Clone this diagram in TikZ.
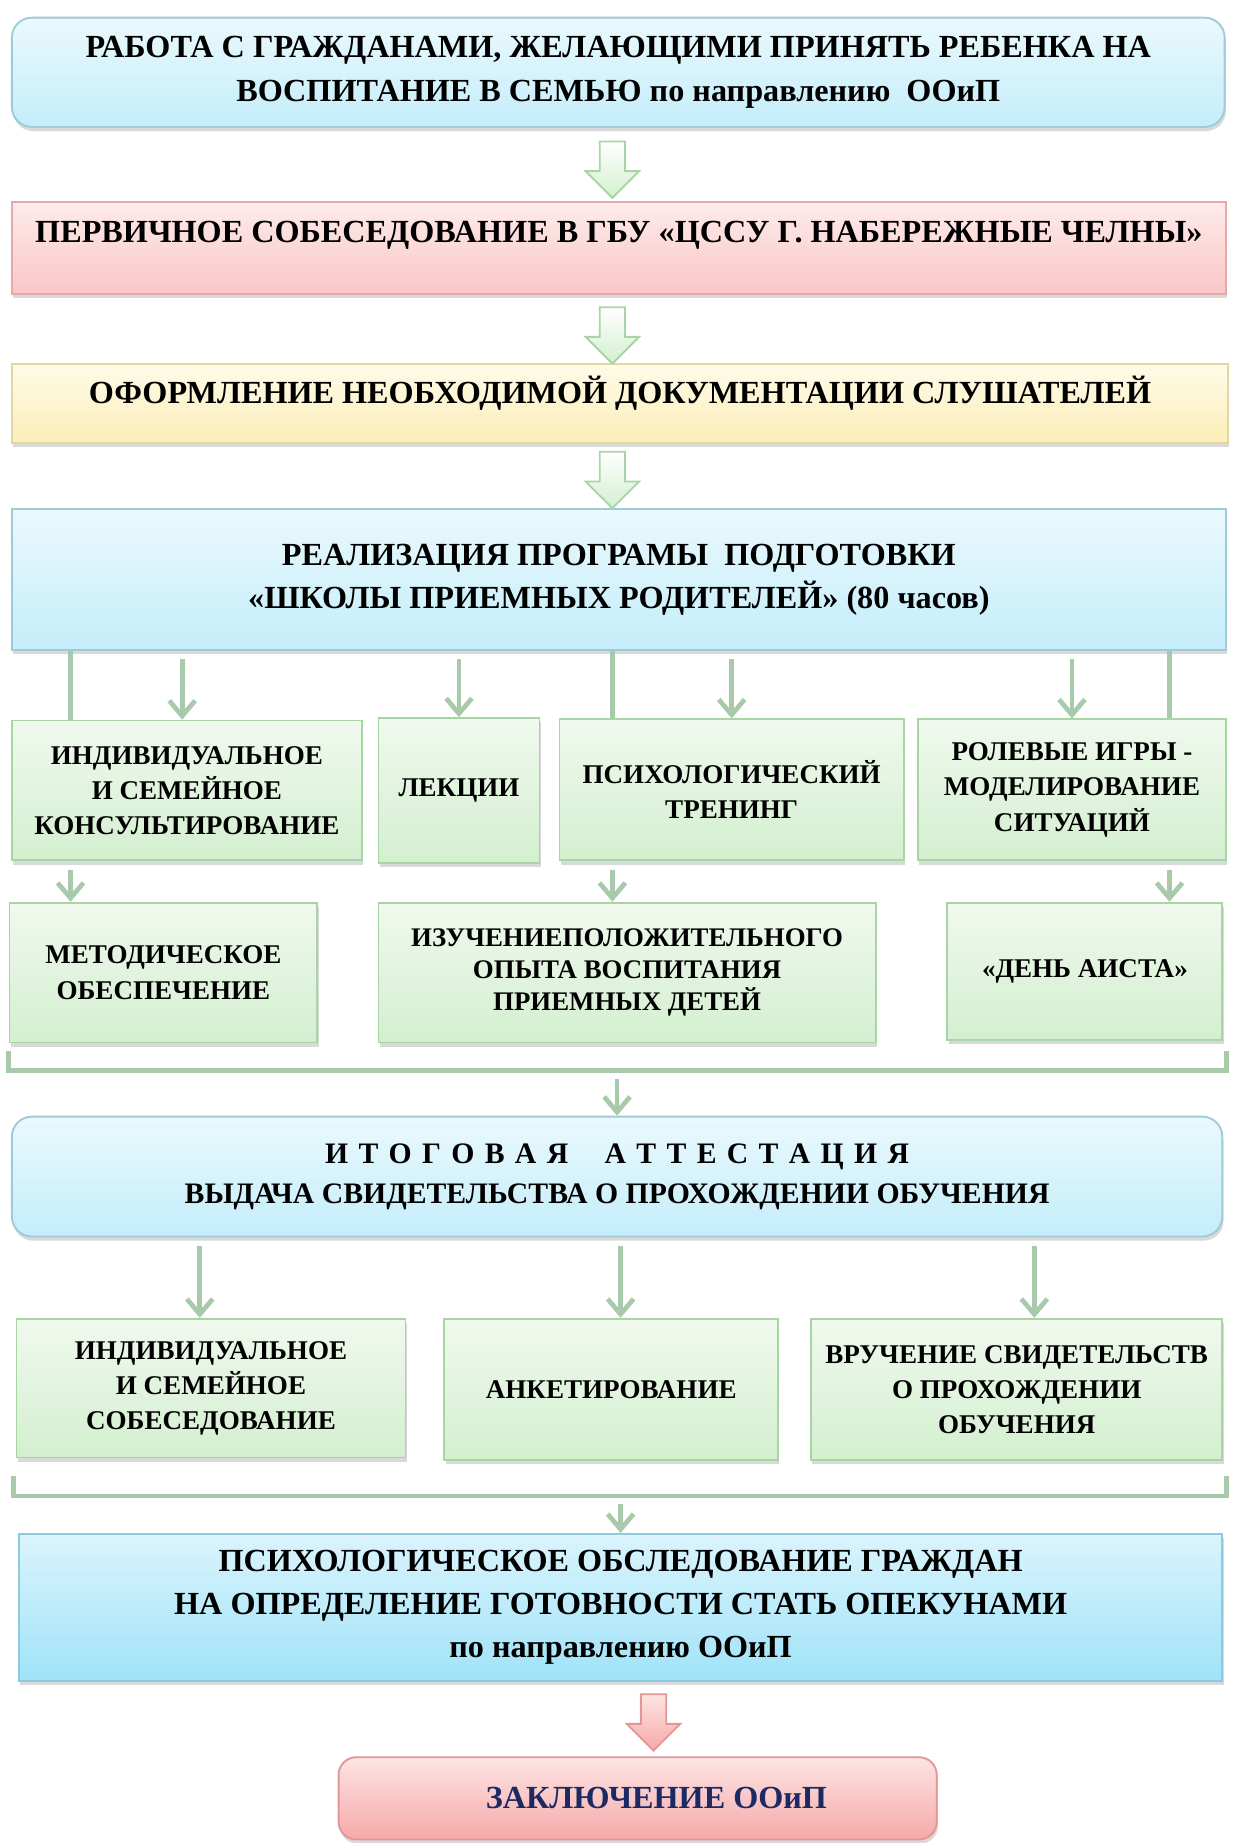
\documentclass[tikz,border=0pt]{standalone}
\usepackage{fontspec}
\setmainfont{Liberation Serif}
\usetikzlibrary{shapes, shapes.arrows, arrows.meta, positioning, calc, shadows}

\definecolor{bluetop}{HTML}{EAF9FD}
\definecolor{bluebot}{HTML}{C4EDFA}
\definecolor{blueline}{HTML}{9FCAD8}
\definecolor{pinktop}{HTML}{FEEBEB}
\definecolor{pinkbot}{HTML}{F9C6C6}
\definecolor{pinkline}{HTML}{E6A9A9}
\definecolor{yeltop}{HTML}{FFFBE8}
\definecolor{yelbot}{HTML}{FBEDB8}
\definecolor{yelline}{HTML}{E2D6A2}
\definecolor{greentop}{HTML}{F0F9EE}
\definecolor{greenbot}{HTML}{D3EFCF}
\definecolor{greenline}{HTML}{A9D5A5}
\definecolor{cyantop}{HTML}{DAF4FD}
\definecolor{cyanbot}{HTML}{A0E3F8}
\definecolor{cyanline}{HTML}{8ECADD}
\definecolor{redtop}{HTML}{FDE4E4}
\definecolor{redbot}{HTML}{F6A9A8}
\definecolor{redline}{HTML}{E09796}
\definecolor{linkcol}{HTML}{A8CAAB}
\definecolor{navy}{HTML}{1C2A64}

\begin{document}
\begin{tikzpicture}[
    x=0.02cm, y=-0.02cm,
    box/.style={rectangle, draw, line width=0.9pt, align=center, inner sep=2pt,
        drop shadow={shadow xshift=0.6pt, shadow yshift=-2pt, opacity=0.3}},
    bigtext/.style={font=\fontsize{15.6}{21}\selectfont\bfseries},
    midtext/.style={font=\fontsize{14.4}{19.4}\selectfont\bfseries},
    smalltext/.style={font=\fontsize{13.1}{17}\selectfont\bfseries},
    bluebox/.style={box, bigtext, draw=blueline, top color=bluetop, bottom color=bluebot},
    pinkbox/.style={box, bigtext, draw=pinkline, top color=pinktop, bottom color=pinkbot},
    yellowbox/.style={box, bigtext, draw=yelline, top color=yeltop, bottom color=yelbot},
    greenbox/.style={box, smalltext, draw=greenline, top color=greentop, bottom color=greenbot},
    cyanbox/.style={box, bigtext, draw=cyanline, top color=cyantop, bottom color=cyanbot},
    redbox/.style={box, draw=redline, top color=redtop, bottom color=redbot, text=navy,
        font=\fontsize{15.6}{19}\selectfont\bfseries},
    garrow/.style={single arrow, shape border rotate=270, draw=greenline, line width=0.9pt,
        top color=white, bottom color=greenbot, minimum height=0.96cm,
        single arrow head extend=0.24cm, inner sep=0.2cm},
    rarrow/.style={garrow, draw=redline, top color=redtop, bottom color=redbot},
    stem/.style={draw=linkcol, line width=2.3pt},
    link/.style={stem, shorten <=0.14cm, -{Straight Barb[length=2.6mm, width=4.4mm]}}
]
\useasboundingbox (0,0) rectangle (1049,1568);

% Main steps
\node[bluebox, rounded corners=0.34cm, minimum width=20.64cm, minimum height=1.86cm] (work) at (526,61.5)
    {РАБОТА С ГРАЖДАНАМИ, ЖЕЛАЮЩИМИ ПРИНЯТЬ РЕБЕНКА НА\\ВОСПИТАНИЕ В СЕМЬЮ по направлению\ \ ООиП};
\node[pinkbox, minimum width=20.66cm, minimum height=1.56cm, text height=0.5cm, text depth=0.69cm] (interview) at (526.5,211)
    {ПЕРВИЧНОЕ СОБЕСЕДОВАНИЕ В ГБУ «ЦССУ Г. НАБЕРЕЖНЫЕ ЧЕЛНЫ»};
\node[yellowbox, minimum width=20.7cm, minimum height=1.34cm, text height=0.5cm, text depth=0.51cm] (docs) at (527.5,343.5)
    {ОФОРМЛЕНИЕ НЕОБХОДИМОЙ ДОКУМЕНТАЦИИ СЛУШАТЕЛЕЙ};
\node[bluebox, minimum width=20.66cm, minimum height=2.4cm] (school) at (526.5,493)
    {РЕАЛИЗАЦИЯ ПРОГРАМЫ\ \ ПОДГОТОВКИ\\«ШКОЛЫ ПРИЕМНЫХ РОДИТЕЛЕЙ» (80 часов)};

\node[garrow] (ga1) at (521,139) {};
\node[garrow] (ga2) at (521,280) {};
\node[garrow] (ga3) at (521,403) {};

% Program parts
\node[greenbox, minimum width=5.96cm, minimum height=2.38cm] (consult) at (159,672.5)
    {ИНДИВИДУАЛЬНОЕ\\И СЕМЕЙНОЕ\\КОНСУЛЬТИРОВАНИЕ};
\node[greenbox, minimum width=2.74cm, minimum height=2.46cm] (lect) at (390.5,672.5) {ЛЕКЦИИ};
\node[greenbox, minimum width=5.86cm, minimum height=2.4cm] (train) at (622.5,672)
    {ПСИХОЛОГИЧЕСКИЙ\\ТРЕНИНГ};
\node[greenbox, minimum width=5.24cm, minimum height=2.4cm] (games) at (912,672)
    {РОЛЕВЫЕ ИГРЫ -\\МОДЕЛИРОВАНИЕ\\СИТУАЦИЙ};

\node[greenbox, minimum width=5.24cm, minimum height=2.38cm] (method) at (139,827.5)
    {МЕТОДИЧЕСКОЕ\\ОБЕСПЕЧЕНИЕ};
\node[greenbox, font=\fontsize{13}{15.4}\selectfont\bfseries, minimum width=8.46cm, minimum height=2.38cm] (study) at (533.5,827.5)
    {ИЗУЧЕНИЕПОЛОЖИТЕЛЬНОГО\\ОПЫТА ВОСПИТАНИЯ\\ПРИЕМНЫХ ДЕТЕЙ};
\node[greenbox, minimum width=4.68cm, minimum height=2.34cm] (stork) at (923,826.5) {«ДЕНЬ АИСТА»};

% Attestation
\node[bluebox, midtext, rounded corners=0.34cm, minimum width=20.6cm, minimum height=2.04cm] (final) at (525,1001)
    {{\spaceskip=5pt И Т О Г О В А Я\hspace{0.62cm}А Т Т Е С Т А Ц И Я}\\ВЫДАЧА СВИДЕТЕЛЬСТВА О ПРОХОЖДЕНИИ ОБУЧЕНИЯ};

\node[greenbox, minimum width=6.62cm, minimum height=2.36cm] (talk) at (179.5,1181)
    {ИНДИВИДУАЛЬНОЕ\\И СЕМЕЙНОЕ\\СОБЕСЕДОВАНИЕ};
\node[greenbox, minimum width=5.68cm, minimum height=2.4cm] (survey) at (520,1182) {АНКЕТИРОВАНИЕ};
\node[greenbox, minimum width=7cm, minimum height=2.4cm] (award) at (865,1182)
    {ВРУЧЕНИЕ СВИДЕТЕЛЬСТВ\\О ПРОХОЖДЕНИИ\\ОБУЧЕНИЯ};

% Last steps
\node[cyanbox, font=\fontsize{15.6}{20.8}\selectfont\bfseries, minimum width=20.48cm, minimum height=2.5cm] (exam) at (528,1367.5)
    {ПСИХОЛОГИЧЕСКОЕ ОБСЛЕДОВАНИЕ ГРАЖДАН\\НА ОПРЕДЕЛЕНИЕ ГОТОВНОСТИ СТАТЬ ОПЕКУНАМИ\\по направлению ООиП};
\node[rarrow] (ra) at (556,1460) {};
\node[redbox, rounded corners=0.3cm, minimum width=10.18cm, minimum height=1.4cm] (verdict) at (542.5,1530)
    {\hspace*{0.64cm}ЗАКЛЮЧЕНИЕ ООиП};

% Arrows
\draw[stem] (school.south -| 60,0) -- (consult.north -| 60,0);
\draw[link] (school.south -| 155,0) -- (consult.north -| 155,0);
\draw[link] (school.south -| lect.north) -- (lect.north);
\draw[stem] (school.south -| 521,0) -- (train.north -| 521,0);
\draw[link] (school.south -| train.north) -- (train.north);
\draw[link] (school.south -| games.north) -- (games.north);
\draw[stem] (school.south -| 995,0) -- (games.north -| 995,0);

\draw[link] (consult.south -| 60,0) -- (method.north -| 60,0);
\draw[link] (train.south -| 521,0) -- (study.north -| 521,0);
\draw[link] (games.south -| 995,0) -- (stork.north -| 995,0);

\draw[stem] ([yshift=-0.12cm]method.south west) -- ++(0,17) coordinate (brk1) -| ([xshift=0.06cm,yshift=-0.16cm]stork.south east);
\draw[link] (brk1 -| final.north) -- (final.north);

\draw[link] (final.south -| 170,0) -- (talk.north -| 170,0);
\draw[link] (final.south -| 528,0) -- (survey.north -| 528,0);
\draw[link] (final.south -| 880,0) -- (award.north -| 880,0);

\draw[stem] ([xshift=-0.04cm,yshift=-0.3cm]talk.south west) -- ++(0,17) coordinate (brk2) -| ([xshift=0.06cm,yshift=-0.26cm]award.south east);
\draw[link] (brk2 -| exam.north) -- (exam.north);

\end{tikzpicture}
\end{document}
